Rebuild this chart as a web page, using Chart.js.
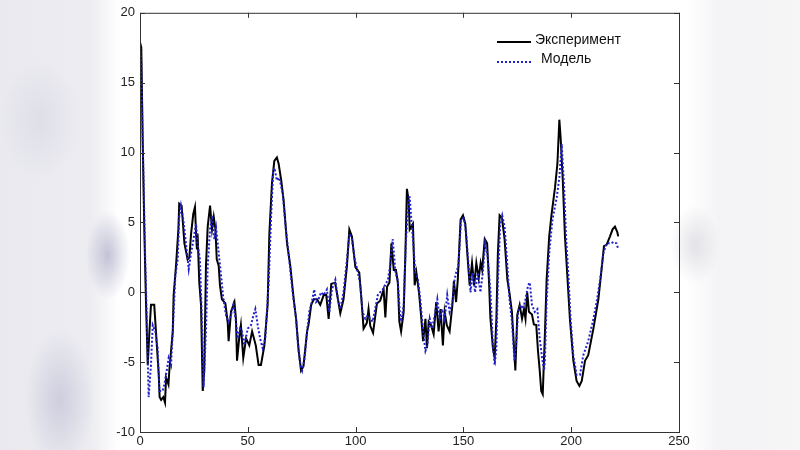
<!DOCTYPE html>
<html>
<head>
<meta charset="utf-8">
<script src="https://cdn.jsdelivr.net/npm/chart.js@4"></script>
<style>
    html, body { margin: 0; padding: 0; }
    body {
        width: 800px;
        height: 450px;
        position: relative;
        overflow: hidden;
        font-family: 'Liberation Sans', Arial, sans-serif;
        background:
            radial-gradient(ellipse 22px 45px at 108px 255px, rgba(150,150,185,0.55), rgba(150,150,185,0)),
            radial-gradient(ellipse 35px 70px at 60px 400px, rgba(170,170,200,0.45), rgba(170,170,200,0)),
            radial-gradient(ellipse 40px 60px at 40px 120px, rgba(200,200,215,0.35), rgba(200,200,215,0)),
            radial-gradient(ellipse 25px 40px at 695px 245px, rgba(200,200,210,0.5), rgba(200,200,210,0)),
            linear-gradient(to right, #e9e9ef 0px, #ececf1 90px, #ffffff 118px, #ffffff 688px, #f3f3f5 720px, #f6f6f7 800px);
    }
    #chart { position: absolute; left: 0; top: 0; }
    .leg { position: absolute; font-size: 14px; color: #111; white-space: nowrap; }
    .line { position: absolute; width: 34px; }
</style>
</head>
<body>
<canvas id="chart" width="800" height="450"></canvas>
<div class="line" style="left:497px; top:41px; border-top:2px solid #000;"></div>
<div class="leg" style="left:535px; top:31px;">Эксперимент</div>
<div class="line" style="left:497px; top:61px; border-top:2px dotted #2222cc;"></div>
<div class="leg" style="left:541px; top:50px;">Модель</div>
<script>
const expX = [0, 0.6, 1.2, 2, 2.8, 3.6, 4.3, 5.1, 6.6, 7.4, 8.7, 9.1, 9.8, 10.8, 11.6, 12.1, 13.2, 13.6, 15.2, 15.6,
    16.7, 17.8, 18.2, 19.3, 20.6, 22.1, 22.9, 23.7, 24.7, 25.5, 26, 26.4, 26.7, 27.5, 28.3, 29.1, 29.8, 30.6, 31.4, 32.5,
    33.4, 34.2, 35, 35.6, 36.5, 37.1, 38, 39.6, 40.7, 41.1, 42.2, 43.8, 44.5, 45, 46, 46.8, 47.9, 49.2, 50.7, 52,
    53.7, 55, 56.1, 57.7, 59.2, 60, 61.2, 62.3, 63.5, 64.3, 65.5, 66.6, 68.2, 69.7, 71.3, 72.4, 73.6, 74.7, 75.8, 77.5,
    78.2, 79.4, 80.6, 82.1, 83.6, 85.2, 86.4, 87.5, 88.7, 90.5, 92.9, 94.4, 96, 97.1, 98.3, 99.9, 101.7, 102.7, 103.7, 105.2,
    106, 106.8, 108.1, 109.9, 111.4, 113, 113.8, 114.6, 115.7, 116.6, 117.7, 118.7, 119.6, 120.3, 121.1, 122.3, 123.1, 123.8, 124.6, 125.1,
    126.6, 127.4, 128.2, 129.4, 130.5, 131.3, 132.4, 133.1, 133.9, 135, 136.2, 137.4, 138.5, 139.4, 140.5, 141.3, 142.3, 143.6, 144.9, 145.6,
    146.6, 147.4, 148.7, 149.8, 150.9, 151.8, 152.9, 154, 155, 156, 157.1, 158, 158.7, 159.9, 161, 161.9, 162.5, 163.7, 164.5, 165.3,
    166, 166.8, 167.9, 169.1, 170.4, 171.4, 172.5, 173.5, 174.1, 175, 176.1, 177.2, 178.1, 178.8, 179.6, 180.4, 181.8, 182.7, 183.8, 184.6,
    185.4, 186.1, 186.8, 187.8, 188.6, 189.8, 190.9, 192.5, 193.6, 194.5, 195.1, 196.1, 197.1, 198.2, 199.4, 201, 202.5, 203.8, 204.9, 206.4,
    207.9, 210.3, 212.6, 214.1, 215.2, 216.4, 218, 219.2, 220.3, 221.4, 221.8];
const expY = [17.9, 17.5, 11.3, 4.5, -0.9, -5.2, -3.0, -0.9, -0.9, -2.8, -5.9, -7.5, -7.7, -7.5, -7.9, -6.1, -6.6, -5.6, -2.8, -0.2,
    1.9, 4.5, 6.35, 6.2, 3.5, 2.35, 2.5, 4.2, 5.6, 6.1, 4.2, 3.06, 4.2, 0.7, -0.9, -7.06, -5.6, 1.9, 4.7, 6.2,
    4.5, 5.4, 4.5, 2.35, 1.9, 0.5, -0.5, -0.8, -2.2, -3.5, -1.4, -0.7, -1.9, -4.9, -3.3, -2.35, -4.7, -3.3, -3.8, -2.8,
    -3.8, -5.2, -5.2, -3.8, -0.9, 4.2, 7.8, 9.4, 9.65, 9.2, 8.0, 6.6, 3.5, 1.9, -0.5, -1.9, -4.2, -5.6, -5.3, -2.8,
    -2.3, -0.9, -0.5, -0.5, -0.9, -0.2, -0.2, -1.9, 0.6, 0.7, -1.5, -0.5, 1.9, 4.5, 4.0, 1.8, 1.4, -0.5, -2.6, -2.2,
    -1.2, -2.4, -2.9, -0.8, -0.6, 0.2, -1.8, 0.4, 0.7, 3.5, 1.6, 1.6, 0.7, -2.1, -2.8, -1.4, 2.8, 7.4, 6.6, 4.5,
    4.9, 0.5, 1.4, 0.0, -1.9, -3.5, -1.9, -4.0, -2.1, -2.35, -3.0, -0.7, -2.8, -1.2, -3.8, -1.4, -2.35, -2.8, -0.9, 0.8,
    -0.7, 0.9, 5.2, 5.5, 4.9, 2.8, 0.5, 2.1, 0.5, 2.1, 1.0, 2.1, 1.6, 3.8, 3.5, 0.7, -1.8, -4.0, -4.7, -1.9,
    2.8, 5.5, 5.3, 3.8, 0.9, -0.1, -1.4, -4.0, -5.6, -1.6, -0.9, -1.9, -1.2, -1.9, 0.0, -1.4, -1.6, -2.3, -2.35, -4.2,
    -5.6, -7.06, -7.3, -3.0, 0.9, 4.0, 5.6, 7.5, 9.2, 12.35, 11.05, 8.0, 4.0, 1.2, -1.9, -4.9, -6.35, -6.7, -6.35, -4.9,
    -4.5, -2.6, -0.5, 1.65, 3.3, 3.4, 4.0, 4.5, 4.7, 4.3, 4.0];

const modX = [0, 0.6, 1.2, 2.5, 3.3, 4.0, 5.1, 5.9, 7.1, 8.2, 9, 10.5, 11.3, 12.4, 13.3, 14.4, 15.5, 16.4, 17.5, 18.2,
    19.0, 20.1, 21.3, 22.6, 23.7, 24.5, 26, 26.7, 27.8, 28.7, 29.5, 30.6, 31.4, 32.5, 33.4, 34.5, 35.3, 36.5, 37.6, 38.7,
    39.9, 41.1, 42.2, 43.3, 44.5, 45.3, 46.4, 47.3, 48.4, 50, 51.5, 52.6, 53.5, 54.6, 55.7, 56.9, 58.1, 59.7, 60.8, 61.8,
    62.4, 63.5, 64.6, 66.2, 67.4, 69, 70.8, 72.4, 73.3, 74.4, 75.2, 76.4, 77.5, 78.5, 79.7, 80.8, 81.7, 82.8, 84, 85.2,
    86.7, 87.8, 89, 90.6, 91.8, 92.9, 94.4, 96, 97.2, 98.3, 99.6, 101.1, 102.2, 103.2, 104.5, 105.7, 106.8, 107.9, 109.1, 110.3,
    111.4, 112.6, 113.7, 115, 116, 117.2, 118.5, 119.5, 120.5, 121.2, 122.3, 123.3, 124.6, 125.1, 125.8, 126.6, 127.7, 128.9, 130, 131.3,
    132.4, 133.3, 134.4, 135.5, 136.7, 137.9, 139, 140.1, 141.3, 142.5, 143.6, 144.9, 145.9, 146.6, 147.7, 148.9, 150.2, 151.3, 152.4, 153.3,
    154.4, 155.4, 156.7, 157.9, 159, 160.1, 161.2, 162.5, 163.7, 164.5, 165.3, 166, 167.1, 168, 169.1, 170.2, 171.4, 172.5, 173.7, 174.6,
    175.4, 176.6, 177.7, 178.8, 180, 180.8, 181.8, 183.1, 184.3, 185.4, 186.5, 187.4, 187.8, 188.6, 189.8, 191.3, 193.3, 194.5, 195.6, 196.7,
    197.6, 198.7, 199.7, 201, 202.5, 204.1, 205.6, 207.9, 210.3, 211.8, 213.4, 214.9, 216.4, 218.3, 219.8, 221, 221.8];
const modY = [17.8, 16.5, 11.3, 1.9, -2.6, -7.5, -5.2, -2.35, -2.8, -4.0, -7.06, -7.06, -6.6, -5.6, -4.7, -5.2, -1.9, 1.2, 2.35, 5.4,
    6.2, 5.2, 3.5, 1.65, 2.8, 3.5, 4.9, 3.5, 2.35, -1.9, -6.8, -2.8, 1.9, 4.5, 5.5, 3.8, 4.6, 2.8, 1.2, -0.5,
    -1.65, -2.1, -1.65, -0.9, -2.1, -3.3, -2.6, -2.8, -3.8, -2.6, -2.35, -1.65, -1.2, -2.35, -3.3, -4.0, -3.3, 0.7, 5.4, 8.7,
    8.9, 8.0, 8.2, 7.05, 4.9, 2.6, 0.0, -1.9, -3.8, -5.2, -5.6, -4.7, -2.8, -1.4, -0.7, 0.2, -0.7, -0.5, 0.0, -0.2,
    0.2, -1.4, 0.2, 0.9, -0.5, -1.2, 0.0, 2.35, 4.2, 3.8, 2.35, 1.4, 0.5, -1.4, -1.9, -1.65, -1.9, -2.1, -1.2, -0.2,
    0.0, 0.2, 0.5, 0.9, 1.9, 3.8, 1.4, 0.9, -1.4, -2.1, -0.9, 3.5, 6.8, 6.8, 5.3, 3.8, 1.4, 0.9, -0.5, -2.8,
    -4.2, -3.8, -1.9, -2.6, -1.65, -0.5, -1.9, -1.2, -1.9, -0.2, -1.4, -0.7, 0.9, 1.4, 1.9, 5.2, 5.3, 4.2, 1.9, 0.0,
    1.4, 0.0, 1.4, 0.0, 1.4, 3.5, 2.6, 0.2, -3.8, -5.2, -4.0, 0.7, 4.9, 5.5, 4.7, 2.35, -0.5, -2.1, -4.9, -3.3,
    -1.4, -0.9, -1.2, -0.5, 0.5, 0.7, -0.9, -1.4, -1.2, -3.3, -4.7, -5.6, -4.9, -0.7, 2.8, 5.2, 6.8, 8.2, 10.6, 7.5,
    4.0, 1.2, -1.9, -4.5, -5.9, -5.9, -4.5, -3.5, -1.9, -0.7, 0.9, 2.8, 3.5, 3.5, 3.6, 3.5, 3.1];

const xTicks = [0, 50, 100, 150, 200, 250];
const yTicks = [-10, -5, 0, 5, 10, 15, 20];

const toPoints = (xs, ys) => xs.map((x, i) => ({ x: x, y: ys[i] }));

// рамка и внутренние засечки как в MATLAB
const framePlugin = {
    id: 'frame',
    afterDraw(chart) {
        const ctx = chart.ctx;
        const a = chart.chartArea;
        const sx = chart.scales.x;
        const sy = chart.scales.y;
        ctx.save();
        ctx.strokeStyle = '#333';
        ctx.lineWidth = 1;
        ctx.strokeRect(a.left + 0.5, a.top + 0.5, a.right - a.left, a.bottom - a.top);
        ctx.beginPath();
        xTicks.forEach((v) => {
            const px = Math.round(sx.getPixelForValue(v)) + 0.5;
            ctx.moveTo(px, a.bottom); ctx.lineTo(px, a.bottom - 5);
            ctx.moveTo(px, a.top); ctx.lineTo(px, a.top + 5);
        });
        yTicks.forEach((v) => {
            const py = Math.round(sy.getPixelForValue(v)) + 0.5;
            ctx.moveTo(a.left, py); ctx.lineTo(a.left + 5, py);
            ctx.moveTo(a.right, py); ctx.lineTo(a.right - 5, py);
        });
        ctx.stroke();
        ctx.restore();
    },
};

new Chart(document.getElementById('chart').getContext('2d'), {
    type: 'line',
    data: {
        datasets: [
            {
                label: 'Эксперимент',
                data: toPoints(expX, expY),
                borderColor: '#000000',
                borderWidth: 2,
                pointRadius: 0,
                tension: 0,
                order: 1,
            },
            {
                label: 'Модель',
                data: toPoints(modX, modY),
                borderColor: '#2222cc',
                borderWidth: 2,
                borderDash: [2, 2],
                pointRadius: 0,
                tension: 0,
                order: 0,
            },
        ],
    },
    options: {
        responsive: false,
        animation: false,
        layout: { padding: { top: 8, right: 121, left: 0, bottom: 0 } },
        plugins: { legend: { display: false }, tooltip: { enabled: false } },
        scales: {
            x: {
                type: 'linear',
                min: 0,
                max: 250,
                grid: { display: false, drawTicks: false },
                border: { display: false },
                ticks: {
                    stepSize: 50,
                    padding: 2,
                    color: '#222',
                    font: { family: 'Liberation Sans', size: 13 },
                    maxRotation: 0,
                },
                afterFit: (s) => { s.height = 18; },
            },
            y: {
                min: -10,
                max: 20,
                grid: { display: false, drawTicks: false },
                border: { display: false },
                ticks: {
                    stepSize: 5,
                    padding: 5,
                    color: '#222',
                    font: { family: 'Liberation Sans', size: 13 },
                },
                afterFit: (s) => { s.width = 140; },
            },
        },
    },
    plugins: [framePlugin],
});
</script>
</body>
</html>
